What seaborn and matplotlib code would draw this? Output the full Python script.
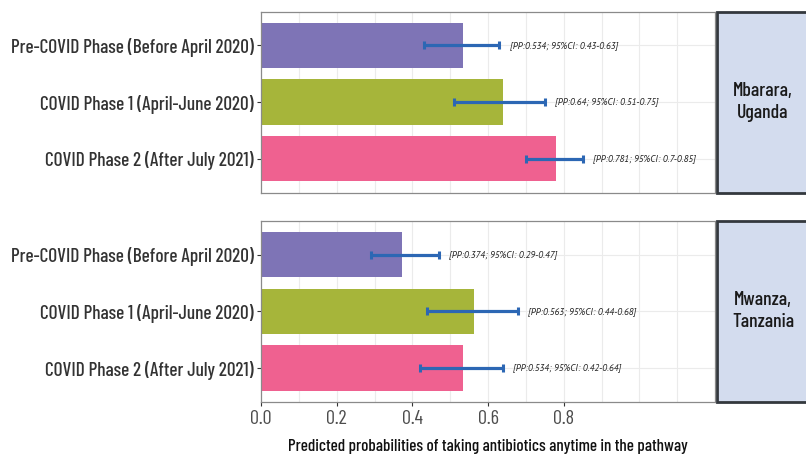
import matplotlib
matplotlib.use("Agg")
import matplotlib.pyplot as plt
from matplotlib import font_manager as fm
from matplotlib.patches import Rectangle
import numpy as np
import pandas as pd
import seaborn as sns

# ---- data -------------------------------------------------------------
phases = [
    "Pre-COVID Phase (Before April 2020)",
    "COVID Phase 1 (April-June 2020)",
    "COVID Phase 2 (After July 2021)",
]
sites = ["Mbarara,\nUganda", "Mwanza,\nTanzania"]

pp_mbarara = [0.534, 0.64, 0.781]
lo_mbarara = [0.43, 0.51, 0.70]
hi_mbarara = [0.63, 0.75, 0.85]

pp_mwanza = [0.374, 0.563, 0.534]
lo_mwanza = [0.29, 0.44, 0.42]
hi_mwanza = [0.47, 0.68, 0.64]

x_ticks = [0.0, 0.2, 0.4, 0.6, 0.8]
x_label = "Predicted probabilities of taking antibiotics anytime in the pathway"

phase_colors = ["#7E74B6", "#A6B53A", "#EF6190"]

# ---- fonts ------------------------------------------------------------
installed = {f.name for f in fm.fontManager.ttflist}


def pick(*families):
    for fam in families:
        if fam in installed:
            return fam
    return "DejaVu Sans"


cond = pick("Barlow Condensed", "Roboto Condensed", "Liberation Sans Narrow")
note_font = pick("PT Sans", "Open Sans")

sns.set_theme(style="white")
plt.rcParams["font.family"] = [cond, "DejaVu Sans"]

# ---- figure layout (pixel geometry) ----------------------------------
W, H = 806, 459
fig = plt.figure(figsize=(W / 100, H / 100), dpi=100)

x0, x1 = 261, 715
panels = [(11.5, 192.7), (220.7, 402.0)]


def fig_rect(left, top, right, bottom):
    return [left / W, 1 - bottom / H, (right - left) / W, (bottom - top) / H]


frames = [
    pd.DataFrame({"phase": phases, "pp": pp_mbarara, "lo": lo_mbarara, "hi": hi_mbarara}),
    pd.DataFrame({"phase": phases, "pp": pp_mwanza, "lo": lo_mwanza, "hi": hi_mwanza}),
]

for i, ((top, bottom), df, site) in enumerate(zip(panels, frames, sites)):
    ax = fig.add_axes(fig_rect(x0, top, x1, bottom))
    sns.barplot(
        data=df, x="pp", y="phase", hue="phase", palette=phase_colors,
        order=phases, hue_order=phases, width=0.8, legend=False,
        edgecolor="none", linewidth=0, saturation=1, ax=ax, zorder=2,
    )
    ypos = np.arange(len(phases))
    pp = df["pp"].to_numpy()
    lo = df["lo"].to_numpy()
    hi = df["hi"].to_numpy()
    ax.errorbar(
        pp, ypos, xerr=[pp - lo, hi - pp], fmt="none",
        ecolor="#2C67B4", elinewidth=2.3, capsize=2.8, capthick=2.2, zorder=3,
    )
    for y, p, l, h in zip(ypos, pp, lo, hi):
        ax.text(
            h + 0.027, y, f"[PP:{p:g}; 95%CI: {l:g}-{h:g}]",
            fontsize=6.7, style="italic", fontweight="normal",
            family=[note_font, "DejaVu Sans"],
            color="#222222", va="center", ha="left", zorder=4,
        )

    ax.set_xlim(0, 1.2)
    ax.set_ylim(2.6, -0.6)
    # light grid every 0.1 along x and one line per category
    for gx in np.arange(0.1, 1.15, 0.1):
        ax.axvline(gx, color="#EBEBEB", lw=0.8, zorder=0)
    for gy in ypos:
        ax.axhline(gy, color="#EBEBEB", lw=0.8, zorder=0)

    ax.set_xlabel("")
    ax.set_ylabel("")
    ax.set_xticks(x_ticks)
    if i == 1:
        ax.set_xticklabels([f"{t:.1f}" for t in x_ticks])
    else:
        ax.set_xticklabels([])
    ax.tick_params(axis="y", length=3, width=0.8, color="#333333", pad=2,
                   labelsize=13.9, labelcolor="#333333", left=True)
    ax.tick_params(axis="x", length=3, width=0.8, color="#333333", pad=2.5,
                   labelsize=14.5, labelcolor="#4D4D4D", bottom=(i == 1))
    for lab in ax.get_yticklabels():
        lab.set_fontweight("medium")
    for sp in ax.spines.values():
        sp.set_visible(True)
        sp.set_color("#8A8A8A")
        sp.set_linewidth(0.9)

    # facet strip on the right-hand side
    strip = Rectangle(
        ((x1 + 1.5) / W, 1 - bottom / H), (W + 10 - x1) / W, (bottom - top) / H,
        transform=fig.transFigure, facecolor="#D3DCEE", edgecolor="#33383D",
        linewidth=2.0, clip_on=False,
    )
    fig.add_artist(strip)
    fig.text(
        763 / W, 1 - ((top + bottom) / 2) / H, site,
        ha="center", va="center", fontsize=14.2, fontweight="medium",
        color="#1A1A1A", linespacing=1.3,
    )

fig.text((x0 + x1) / 2 / W, 1 - 447 / H, x_label, ha="center", va="center",
         fontsize=12.3, fontweight="medium", color="#111111")

fig.savefig("out.png", dpi=100)
